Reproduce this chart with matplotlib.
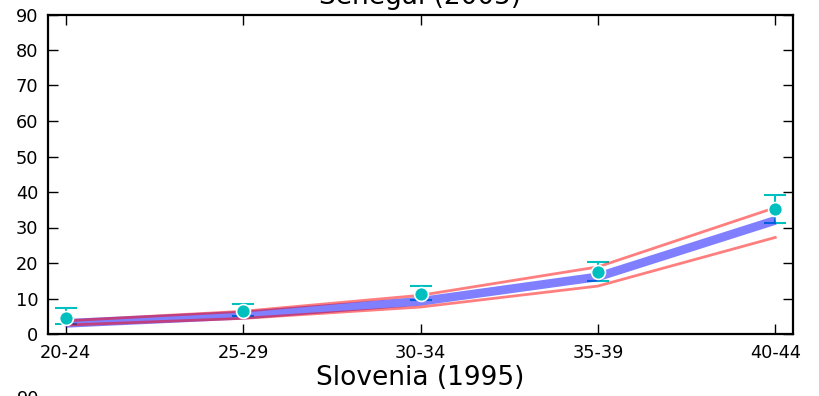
import matplotlib
matplotlib.use("Agg")
import matplotlib.pyplot as plt

ages = ['20-24', '25-29', '30-34', '35-39', '40-44']
model = [3.0, 5.3, 9.2, 16.1, 32.0]
model_upper = [3.7, 6.4, 10.9, 18.9, 35.6]
model_lower = [2.5, 4.4, 7.6, 13.5, 27.2]
obs = [4.6, 6.5, 11.25, 17.5, 35.2]
obs_hi = [7.2, 8.5, 13.6, 20.3, 39.2]
obs_lo = [2.7, 5.0, 9.5, 14.9, 31.3]
yticks = [0, 10, 20, 30, 40, 50, 60, 70, 80, 90]

W, H = 820, 396
fig = plt.figure(figsize=(W / 100, H / 100), dpi=100)
ax = fig.add_axes([48 / W, (H - 334) / H, 745 / W, 319.5 / H])

x = list(range(len(ages)))
cyan = (0.0, 0.75, 0.75)
err_lo = [o - l for o, l in zip(obs, obs_lo)]
err_hi = [h - o for o, h in zip(obs, obs_hi)]
ax.errorbar(x, obs, yerr=[err_lo, err_hi], fmt='none', ecolor=cyan,
            elinewidth=1.5, capsize=8, capthick=1.5, zorder=1)
ax.plot(x, model, color='b', alpha=0.5, lw=6.3, solid_capstyle='butt', zorder=2)
ax.plot(x, model_upper, color='r', alpha=0.5, lw=2, zorder=3)
ax.plot(x, model_lower, color='r', alpha=0.5, lw=2, zorder=3)
ax.plot(x, obs, 'o', color=cyan, markersize=10, markeredgecolor='white',
        markeredgewidth=1.2, zorder=4)

ax.set_xlim(-0.1, 4.1)
ax.set_ylim(0, 90)
ax.set_xticks(x)
ax.set_xticklabels(ages)
ax.set_yticks(yticks)
ax.tick_params(direction='in', length=7, width=1, labelsize=12.8,
               top=True, right=True)
ax.tick_params(axis='y', pad=7)
ax.tick_params(axis='x', pad=7)
for s in ax.spines.values():
    s.set_linewidth(1.6)

fig.text(420.5 / W, (H - 4) / H, 'Senegal (2005)', ha='center', va='baseline', fontsize=19)
fig.text(420.5 / W, (H - 385) / H, 'Slovenia (1995)', ha='center', va='baseline', fontsize=19)
fig.text(39.5 / W, (H - 399) / H, '90', ha='right', va='center', fontsize=12.8)

fig.savefig('out.png', dpi=100)
